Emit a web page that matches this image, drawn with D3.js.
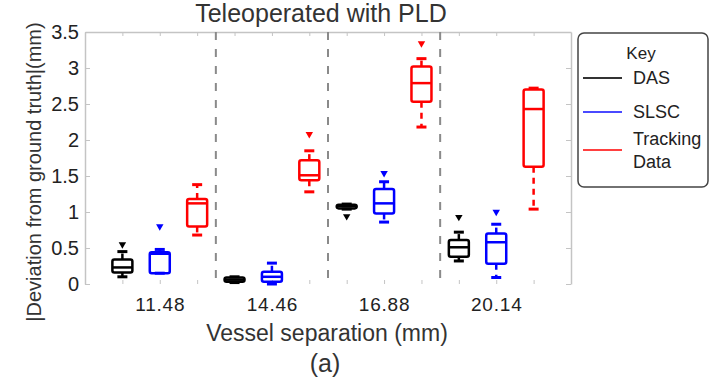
<!DOCTYPE html>
<html>
<head>
<meta charset="utf-8">
<script src="https://cdn.jsdelivr.net/npm/d3@7"></script>
<style>
  body { margin: 0; background: #fff; }
  svg { display: block; font-family: "Liberation Sans", Arial, sans-serif; }
</style>
</head>
<body>
<svg id="chart" width="710" height="385"></svg>
<script>
// categories
const groups = ['11.48', '14.46', '16.88', '20.14'];
const seriesNames = ['DAS', 'SLSC', 'Tracking Data'];
const seriesColors = ['#000000', '#0000ff', '#ff0000'];
const yTicks = [0, 0.5, 1, 1.5, 2, 2.5, 3, 3.5];

// box stats per group: [lowWhisker, q1, median, q3, highWhisker]
const dasStats = [
  [0.10, 0.16, 0.23, 0.34, 0.45],
  [0.02, 0.03, 0.06, 0.09, 0.10],
  [1.04, 1.05, 1.08, 1.10, 1.11],
  [0.32, 0.38, 0.51, 0.61, 0.72]
];
const slscStats = [
  [0.15, 0.15, 0.42, 0.44, 0.48],
  [0.00, 0.03, 0.10, 0.17, 0.29],
  [0.86, 0.98, 1.12, 1.32, 1.42],
  [0.09, 0.28, 0.58, 0.70, 0.83]
];
const trackStats = [
  [0.68, 0.80, 1.12, 1.18, 1.38],
  [1.28, 1.44, 1.51, 1.72, 1.85],
  [2.18, 2.53, 2.79, 3.02, 3.13],
  [1.04, 1.63, 2.43, 2.70, 2.72]
];

// outliers per group
const dasOutliers = [[0.55], [], [0.94], [0.93]];
const slscOutliers = [[0.80], [], [1.54], [1.00]];
const trackOutliers = [[], [2.08], [3.34], []];

const allStats = [dasStats, slscStats, trackStats];
const allOutliers = [dasOutliers, slscOutliers, trackOutliers];

const svg = d3.select('#chart');
const W = 710, H = 385;
const margin = { left: 85, right: 139, top: 32, bottom: 101 };

const x = d3.scaleLinear().domain([0, 13]).range([margin.left, W - margin.right]);
const y = d3.scaleLinear().domain([0, 3.5]).range([H - margin.bottom, margin.top]);

const positions = d3.range(1, 13);
const axisGrey = '#c4c4c4';

// Axes
const yLeft = svg.append('g')
  .attr('transform', `translate(${x(0)},0)`)
  .call(d3.axisLeft(y).tickValues(yTicks).tickSizeInner(-5).tickSizeOuter(0).tickPadding(6)
    .tickFormat(d3.format('')));
yLeft.select('.domain').attr('stroke', axisGrey).attr('stroke-width', 1.5);
yLeft.selectAll('.tick line').attr('stroke', axisGrey);
yLeft.selectAll('.tick text').attr('font-size', 20).attr('fill', '#222');

const yRight = svg.append('g')
  .attr('transform', `translate(${x(13)},0)`)
  .call(d3.axisRight(y).tickValues(yTicks).tickSizeInner(-5).tickSizeOuter(0).tickFormat(''));
yRight.select('.domain').attr('stroke', axisGrey).attr('stroke-width', 1.5);
yRight.selectAll('.tick line').attr('stroke', axisGrey);

const xTop = svg.append('g')
  .attr('transform', `translate(0,${y(3.5)})`)
  .call(d3.axisTop(x).tickValues(positions).tickSizeInner(-4).tickSizeOuter(0).tickFormat(''));
xTop.select('.domain').attr('stroke', axisGrey).attr('stroke-width', 1.5);
xTop.selectAll('.tick line').attr('stroke', axisGrey);

const xBottom = svg.append('g')
  .attr('transform', `translate(0,${y(0)})`)
  .call(d3.axisBottom(x).tickValues(positions).tickSizeInner(-4).tickSizeOuter(0).tickPadding(14)
    .tickFormat(d => (d % 3 === 2 ? groups[(d - 2) / 3] : '')));
xBottom.select('.domain').remove();
xBottom.selectAll('.tick line').attr('stroke', axisGrey);
xBottom.selectAll('.tick text').attr('font-size', 19).attr('letter-spacing', 0.8).attr('fill', '#222');

// Group separators
svg.append('g').selectAll('line')
  .data([3.5, 6.5, 9.5])
  .join('line')
  .attr('x1', d => x(d)).attr('x2', d => x(d))
  .attr('y1', y(3.5)).attr('y2', y(0))
  .attr('stroke', '#8a8a8a')
  .attr('stroke-width', 2)
  .attr('stroke-dasharray', '8,9');

// Boxes
const boxHalf = 10;
const capHalf = 5;
const sw = 2.5;

allStats.forEach((stats, s) => {
  const color = seriesColors[s];
  const g = svg.append('g').attr('class', 'series-' + s);
  stats.forEach((st, gi) => {
    const [lo, q1, med, q3, hi] = st;
    const cx = x(gi * 3 + s + 1);
    // whiskers
    g.append('line')
      .attr('x1', cx).attr('x2', cx).attr('y1', y(q3)).attr('y2', y(hi))
      .attr('stroke', color).attr('stroke-width', sw).attr('stroke-dasharray', '6,5');
    g.append('line')
      .attr('x1', cx).attr('x2', cx).attr('y1', y(q1)).attr('y2', y(lo))
      .attr('stroke', color).attr('stroke-width', sw).attr('stroke-dasharray', '6,5');
    // caps
    [lo, hi].forEach(v => {
      g.append('line')
        .attr('x1', cx - capHalf).attr('x2', cx + capHalf)
        .attr('y1', y(v)).attr('y2', y(v))
        .attr('stroke', color).attr('stroke-width', sw + 0.5);
    });
    // box
    g.append('rect')
      .attr('x', cx - boxHalf).attr('width', boxHalf * 2)
      .attr('y', y(q3)).attr('height', Math.max(2, y(q1) - y(q3)))
      .attr('rx', 2)
      .attr('fill', 'none').attr('stroke', color).attr('stroke-width', sw);
    // median
    g.append('line')
      .attr('x1', cx - boxHalf).attr('x2', cx + boxHalf)
      .attr('y1', y(med)).attr('y2', y(med))
      .attr('stroke', color).attr('stroke-width', sw);
    // outliers
    allOutliers[s][gi].forEach(v => {
      g.append('path')
        .attr('d', d3.symbol(d3.symbolTriangle, 24)())
        .attr('transform', `translate(${cx},${y(v)}) rotate(180)`)
        .attr('fill', color);
    });
  });
});

// Title and labels
svg.append('text')
  .attr('x', 321).attr('y', 22)
  .attr('text-anchor', 'middle')
  .attr('font-size', 25)
  .attr('fill', '#333')
  .text('Teleoperated with PLD');

svg.append('text')
  .attr('transform', 'translate(41,172) rotate(-90)')
  .attr('text-anchor', 'middle')
  .attr('font-size', 20)
  .attr('fill', '#333')
  .text('|Deviation from ground truth|(mm)');

svg.append('text')
  .attr('x', 327).attr('y', 341)
  .attr('text-anchor', 'middle')
  .attr('font-size', 23)
  .attr('fill', '#333')
  .text('Vessel separation (mm)');

svg.append('text')
  .attr('x', 325).attr('y', 372)
  .attr('text-anchor', 'middle')
  .attr('font-size', 25)
  .attr('fill', '#333')
  .text('(a)');

// Legend
const legend = svg.append('g');
legend.append('rect')
  .attr('x', 578).attr('y', 33).attr('width', 130).attr('height', 154)
  .attr('rx', 6)
  .attr('fill', '#fff').attr('stroke', '#444').attr('stroke-width', 1.5);
legend.append('text')
  .attr('x', 641).attr('y', 59)
  .attr('text-anchor', 'middle')
  .attr('font-size', 17).attr('fill', '#222')
  .text('Key');

const legendY = [78, 112, 150];
const legendColors = ['#333', '#4a4aff', '#ff4040'];
seriesNames.forEach((name, i) => {
  legend.append('line')
    .attr('x1', 583).attr('x2', 622)
    .attr('y1', legendY[i]).attr('y2', legendY[i])
    .attr('stroke', legendColors[i]).attr('stroke-width', 2);
});
legend.append('text').attr('x', 633).attr('y', 84).attr('font-size', 18).attr('fill', '#222').text('DAS');
legend.append('text').attr('x', 633).attr('y', 118).attr('font-size', 18).attr('fill', '#222').text('SLSC');
legend.append('text').attr('x', 633).attr('y', 145).attr('font-size', 18).attr('fill', '#222').text('Tracking');
legend.append('text').attr('x', 633).attr('y', 168).attr('font-size', 18).attr('fill', '#222').text('Data');
</script>
</body>
</html>
